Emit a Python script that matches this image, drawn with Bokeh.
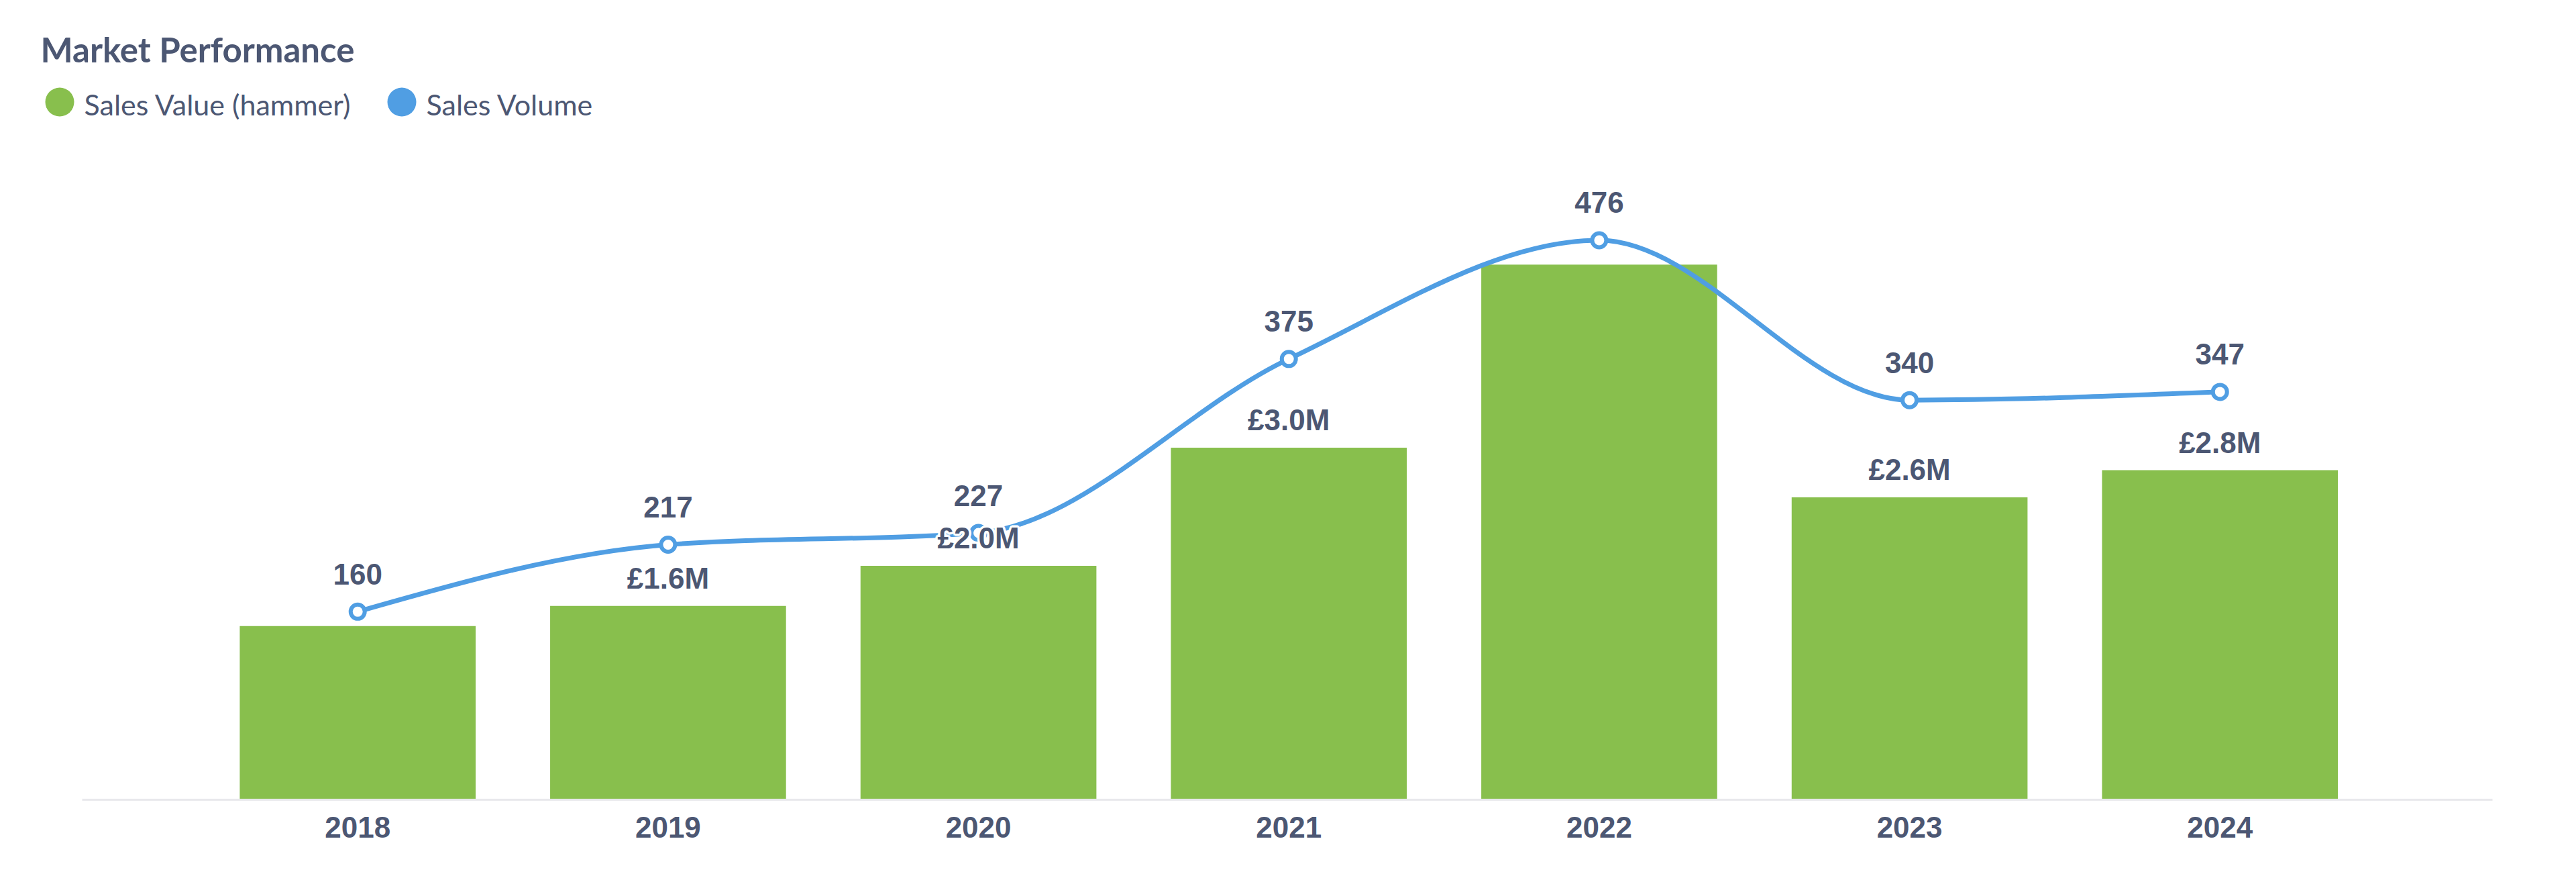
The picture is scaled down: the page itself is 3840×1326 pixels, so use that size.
from bokeh.plotting import figure
from bokeh.models import Range1d, FixedTicker, ColumnDataSource
from bokeh.layouts import column
from bokeh.core.properties import value
from bokeh.embed import file_html
from bokeh.resources import INLINE

# ---- data ----
years = ["2018", "2019", "2020", "2021", "2022", "2023", "2024"]
sales_value_m = [1.47, 1.64, 1.98, 2.98, 4.53, 2.56, 2.79]   # £ millions (hammer)
sales_volume = [160, 217, 227, 375, 476, 340, 347]
value_label_shown = [False, True, True, True, False, True, True]

TEXT = "#4C5773"
GREEN = "#88BF4D"
BLUE = "#509EE3"

xs = list(range(len(years)))

# ---- header (title + legend) ----
W = 3824
HH = 200
header = figure(width=W, height=HH, x_range=Range1d(0, W), y_range=Range1d(HH, 0),
                output_backend="svg", toolbar_location=None,
                x_axis_location=None, y_axis_location=None,
                min_border=0, outline_line_color=None)
header.frame_align = False
header.xgrid.visible = False
header.ygrid.visible = False
header.text(x=[60], y=[73], text=["Market Performance"], text_font=value("Lato"),
            text_font_size="51px", text_font_style="bold", text_color=TEXT,
            text_baseline="alphabetic", text_align="left")
legend_names = ["Sales Value (hammer)", "Sales Volume"]
legend_colors = [GREEN, BLUE]
header.scatter(x=[88.5, 598.5], y=[151.5, 151.5], size=43, marker="circle",
               fill_color=legend_colors, line_color=None)
header.text(x=[125, 635], y=[155, 155], text=legend_names, text_font=value("Lato"),
            text_font_size="43px", text_color=TEXT,
            text_baseline="alphabetic", text_align="left")

# ---- main chart ----
p = figure(width=W, height=1111,
           x_range=Range1d(-0.8877, 6.878), y_range=Range1d(0, 5.403),
           output_backend="svg", toolbar_location=None, y_axis_location=None,
           min_border_left=122, min_border_right=109,
           min_border_top=40, min_border_bottom=120,
           outline_line_color=None)
p.frame_align = False
p.extra_y_ranges = {"vol": Range1d(0, 543.1)}
p.xgrid.visible = False
p.ygrid.visible = False

src = ColumnDataSource(dict(x=xs, val=sales_value_m, vol=sales_volume))
p.vbar(x="x", top="val", width=0.76, source=src, fill_color=GREEN, line_color=None)

# monotone-x cubic (d3 style) between the volume points
def _sign(v):
    return -1 if v < 0 else 1

n = len(xs)
h = [xs[i + 1] - xs[i] for i in range(n - 1)]
s = [(sales_volume[i + 1] - sales_volume[i]) / h[i] for i in range(n - 1)]
t = [0.0] * n
for i in range(1, n - 1):
    s0, s1 = s[i - 1], s[i]
    pp = (s0 * h[i] + s1 * h[i - 1]) / (h[i - 1] + h[i])
    t[i] = (_sign(s0) + _sign(s1)) * min(abs(s0), abs(s1), 0.5 * abs(pp)) or 0.0
t[0] = (3 * s[0] - t[1]) / 2
t[-1] = (3 * s[-1] - t[-2]) / 2

bx0, by0, bx1, by1, cx0, cy0, cx1, cy1 = [], [], [], [], [], [], [], []
for i in range(n - 1):
    dx = (xs[i + 1] - xs[i]) / 3
    bx0.append(xs[i]); by0.append(sales_volume[i])
    bx1.append(xs[i + 1]); by1.append(sales_volume[i + 1])
    cx0.append(xs[i] + dx); cy0.append(sales_volume[i] + dx * t[i])
    cx1.append(xs[i + 1] - dx); cy1.append(sales_volume[i + 1] - dx * t[i + 1])

p.bezier(x0=bx0, y0=by0, x1=bx1, y1=by1, cx0=cx0, cy0=cy0, cx1=cx1, cy1=cy1,
         line_color=BLUE, line_width=7, line_cap="round", y_range_name="vol")
p.scatter(x="x", y="vol", source=src, size=21, marker="circle", fill_color="white",
          line_color=BLUE, line_width=6, y_range_name="vol")

lab_font = value("Liberation Sans")
vol_text = [str(v) for v in sales_volume]
bx = [x for x, sh in zip(xs, value_label_shown) if sh]
bv = [v for v, sh in zip(sales_value_m, value_label_shown) if sh]
val_text = ["£%.1fM" % v for v in bv]

common = dict(text_align="center", text_baseline="alphabetic", text_font=lab_font,
              text_font_size="44px", text_font_style="bold")
# white halo underneath the labels (several shifted white copies)
halo = [(-3, 0), (3, 0), (0, -3), (0, 3), (-2, -2), (2, -2), (-2, 2), (2, 2)]
for hx, hy in halo:
    p.text(x=xs, y=sales_volume, text=vol_text, x_offset=hx, y_offset=-56 + hy,
           text_color="white", text_outline_color="white", y_range_name="vol", **common)
    p.text(x=bx, y=bv, text=val_text, x_offset=hx, y_offset=-41 + hy,
           text_color="white", text_outline_color="white", **common)
p.text(x=xs, y=sales_volume, text=vol_text, y_offset=-56, text_color=TEXT,
       y_range_name="vol", **common)
p.text(x=bx, y=bv, text=val_text, y_offset=-41, text_color=TEXT, **common)

ax = p.xaxis[0]
ax.ticker = FixedTicker(ticks=xs)
ax.major_label_overrides = {i: y for i, y in zip(xs, years)}
ax.axis_line_color = "#E8E8EC"
ax.axis_line_width = 3
ax.major_tick_line_color = None
ax.minor_tick_line_color = None
ax.major_label_standoff = 19
ax.major_label_text_font = "Liberation Sans"
ax.major_label_text_font_size = "44px"
ax.major_label_text_font_style = "bold"
ax.major_label_text_color = TEXT

layout = column(header, p)
open("out.html", "w").write(file_html(layout, INLINE))
